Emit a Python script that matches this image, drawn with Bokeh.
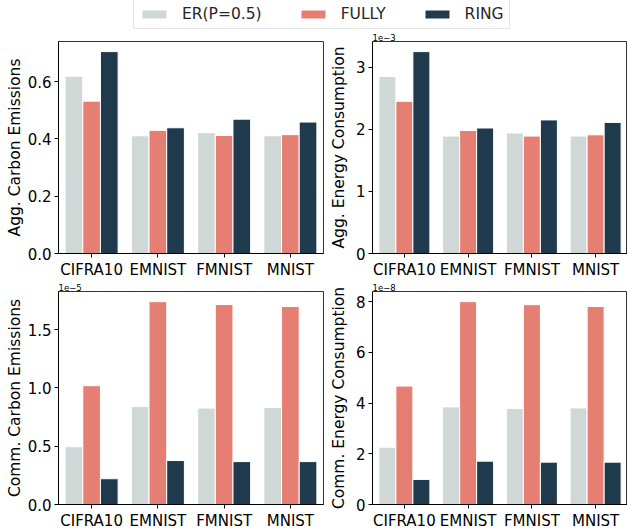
from bokeh.plotting import figure
from bokeh.models import ColumnDataSource, FactorRange, Range1d, FixedTicker, PrintfTickFormatter, Legend, LegendItem
from bokeh.layouts import column, row
from bokeh.transform import dodge
from bokeh.embed import file_html
from bokeh.resources import INLINE

# ---------------- data ----------------
datasets = ["CIFRA10", "EMNIST", "FMNIST", "MNIST"]
series_names = ["ER(P=0.5)", "FULLY", "RING"]
series_colors = ["#cfd8d7", "#e57f73", "#1f3a4c"]

# Aggregated carbon emissions
agg_carbon_er = [0.619, 0.411, 0.422, 0.411]
agg_carbon_fully = [0.532, 0.430, 0.412, 0.415]
agg_carbon_ring = [0.705, 0.439, 0.469, 0.459]

# Aggregated energy consumption (x 1e-3)
agg_energy_er = [2.85, 1.89, 1.94, 1.89]
agg_energy_fully = [2.45, 1.98, 1.89, 1.91]
agg_energy_ring = [3.25, 2.02, 2.15, 2.11]

# Communication carbon emissions (x 1e-5)
comm_carbon_er = [0.496, 0.840, 0.827, 0.832]
comm_carbon_fully = [1.019, 1.740, 1.715, 1.698]
comm_carbon_ring = [0.221, 0.377, 0.368, 0.368]

# Communication energy consumption (x 1e-8)
comm_energy_er = [2.26, 3.85, 3.79, 3.81]
comm_energy_fully = [4.67, 8.00, 7.88, 7.81]
comm_energy_ring = [0.99, 1.71, 1.67, 1.67]

agg_carbon_ticks = [0.0, 0.2, 0.4, 0.6]
agg_energy_ticks = [0, 1, 2, 3]
comm_carbon_ticks = [0.0, 0.5, 1.0, 1.5]
comm_energy_ticks = [0, 2, 4, 6, 8]

FONT = "DejaVu Sans"
BAR_W = 0.8 / 3


def panel(ylabel, er, fully, ring, ticks, fmt, exponent,
          width, height, b_left, b_right, b_top, b_bottom, lab_standoff):
    ymax = 1.05 * max(er + fully + ring)
    p = figure(x_range=FactorRange(factors=datasets), y_range=Range1d(0, ymax),
               width=width, height=height,
               min_border_left=b_left, min_border_right=b_right,
               min_border_top=b_top, min_border_bottom=b_bottom,
               output_backend="svg", toolbar_location=None)
    src = ColumnDataSource(dict(cat=datasets, er=er, fully=fully, ring=ring))
    for key, off, col in zip(["er", "fully", "ring"], [-BAR_W, 0, BAR_W], series_colors):
        p.vbar(x=dodge("cat", off, range=p.x_range), top=key, width=BAR_W,
               source=src, fill_color=col, line_color="white", line_width=1)
    p.xgrid.visible = False
    p.ygrid.visible = False
    p.outline_line_color = "#333333"
    p.outline_line_width = 1
    p.background_fill_color = "white"
    p.border_fill_color = "white"

    p.yaxis.ticker = FixedTicker(ticks=ticks)
    p.yaxis.formatter = PrintfTickFormatter(format=fmt)
    p.yaxis.axis_label = ylabel
    p.yaxis.axis_label_text_font = FONT
    p.yaxis.axis_label_text_font_size = "15.5px"
    p.yaxis.axis_label_text_font_style = "normal"
    p.yaxis.axis_label_text_color = "black"
    p.yaxis.axis_label_standoff = lab_standoff
    for ax in (p.xaxis, p.yaxis):
        ax.major_label_text_font = FONT
        ax.major_label_text_font_size = "15px"
        ax.major_label_text_color = "black"
        ax.major_tick_in = 0
        ax.major_tick_out = 4
        ax.minor_tick_in = 0
        ax.minor_tick_out = 0
        ax.major_label_standoff = 3
        ax.axis_line_color = "black"
        ax.major_tick_line_color = "black"
    if exponent:
        p.title.text = exponent
        p.title.text_font = FONT
        p.title.text_font_size = "8.5px"
        p.title.text_font_style = "normal"
        p.title.text_color = "black"
        p.title.align = "left"
        p.title.offset = 0
        p.title.standoff = 1
    return p


p1 = panel("Agg. Carbon Emissions", agg_carbon_er, agg_carbon_fully, agg_carbon_ring,
           agg_carbon_ticks, "%.1f", None, 326, 250, 58, 3, 10, 24, 1)
p2 = panel("Agg. Energy Consumption", agg_energy_er, agg_energy_fully, agg_energy_ring,
           agg_energy_ticks, "%d", "1e\u22123", 301, 250, 38, 0, 10, 24, 5)
p3 = panel("Comm. Carbon Emissions", comm_carbon_er, comm_carbon_fully, comm_carbon_ring,
           comm_carbon_ticks, "%.1f", "1e\u22125", 326, 251, 58, 3, 10, 25, 1)
p4 = panel("Comm. Energy Consumption", comm_energy_er, comm_energy_fully, comm_energy_ring,
           comm_energy_ticks, "%d", "1e\u22128", 301, 251, 38, 0, 10, 25, 5)

# ---------------- legend strip ----------------
lg = figure(width=627, height=31, x_range=Range1d(0, 1), y_range=Range1d(0, 1),
            min_border=0, output_backend="svg", toolbar_location=None)
lg.axis.visible = False
lg.xgrid.visible = False
lg.ygrid.visible = False
lg.outline_line_color = None
items = []
for name, col in zip(series_names, series_colors):
    r = lg.vbar(x=[0], top=[0], bottom=[0], width=0, fill_color=col, line_color=None)
    items.append(LegendItem(label=name, renderers=[r]))
legend = Legend(items=items, orientation="horizontal", location=(133, 2),
                margin=0, padding=5, spacing=36, label_standoff=13,
                glyph_width=30, glyph_height=10, label_height=17,
                label_text_font=FONT, label_text_font_size="15.5px",
                label_text_color="#262626",
                border_line_color="#cccccc", border_line_width=1,
                background_fill_color="white", background_fill_alpha=1)
lg.add_layout(legend, "center")

layout = column(lg, row(p1, p2), row(p3, p4))

open("out.html", "w").write(file_html(layout, INLINE))
